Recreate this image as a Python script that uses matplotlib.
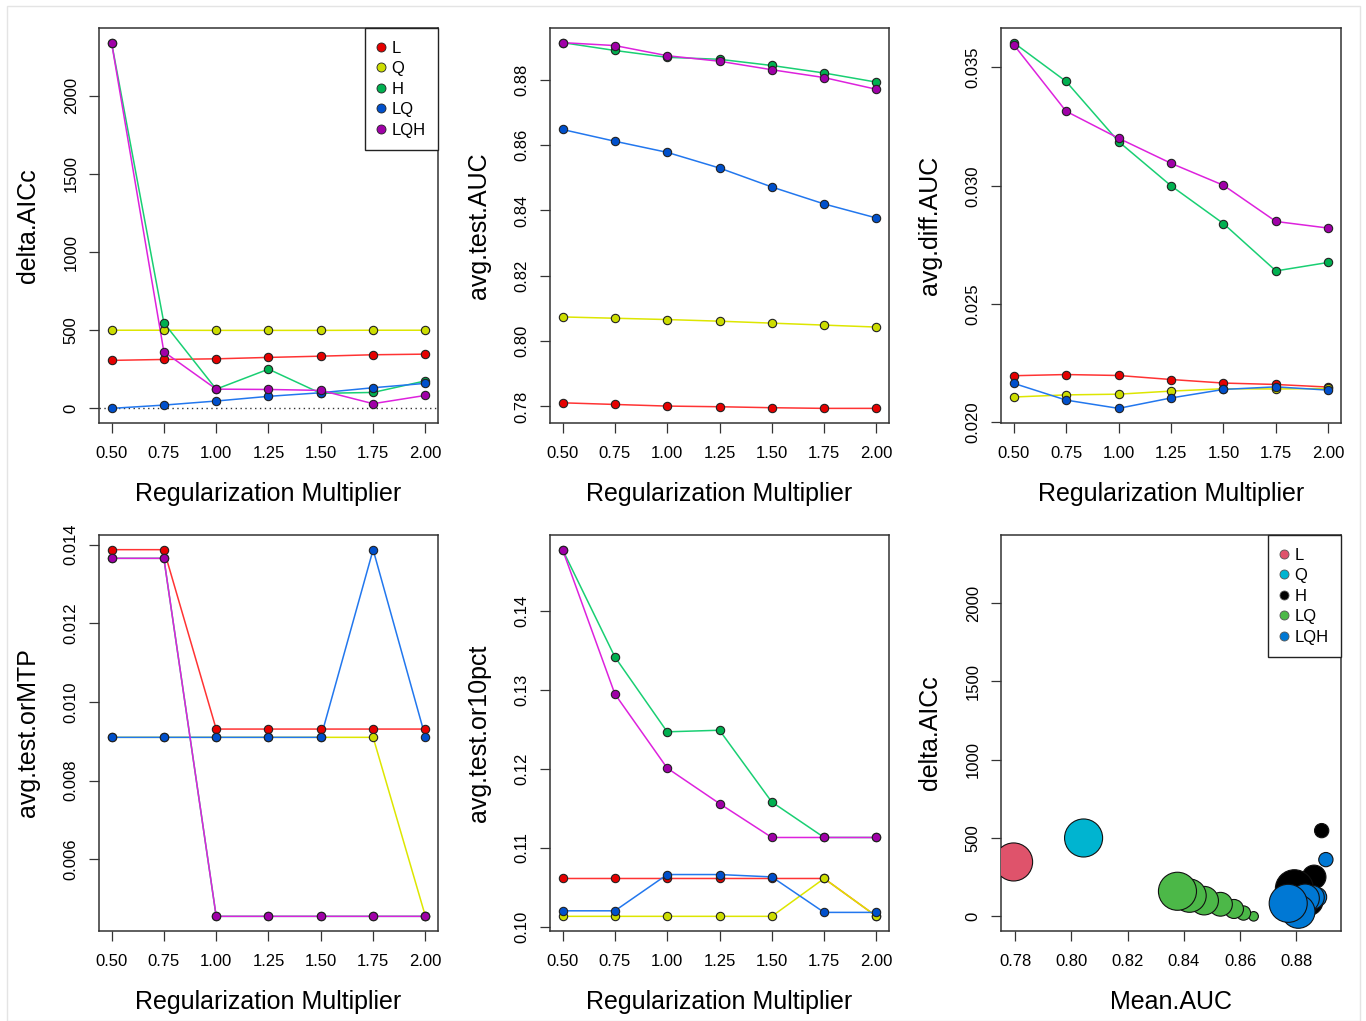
import matplotlib.pyplot as plt
from matplotlib.lines import Line2D
from matplotlib.patches import Rectangle

plt.rcParams['font.family'] = ['Liberation Sans', 'DejaVu Sans']

# regularization multipliers and feature classes
rm = [0.5, 0.75, 1.0, 1.25, 1.5, 1.75, 2.0]
rm_labels = ['0.50', '0.75', '1.00', '1.25', '1.50', '1.75', '2.00']
features = ['L', 'Q', 'H', 'LQ', 'LQH']

delta_aicc = {
    'L':   [307, 313, 317, 326, 334, 343, 347],
    'Q':   [500, 500, 499, 499, 499, 500, 500],
    'H':   [2340, 547, 123, 251, 96, 102, 176],
    'LQ':  [0, 21, 47, 77, 100, 132, 160],
    'LQH': [2340, 362, 123, 121, 115, 30, 83],
}
avg_test_auc = {
    'L':   [0.7811, 0.7806, 0.7801, 0.7799, 0.7796, 0.7794, 0.7794],
    'Q':   [0.8074, 0.8070, 0.8066, 0.8061, 0.8055, 0.8049, 0.8043],
    'H':   [0.8914, 0.8890, 0.8869, 0.8863, 0.8844, 0.8821, 0.8793],
    'LQ':  [0.8648, 0.8612, 0.8578, 0.8530, 0.8472, 0.8420, 0.8377],
    'LQH': [0.8914, 0.8905, 0.8874, 0.8857, 0.8831, 0.8807, 0.8771],
}
avg_diff_auc = {
    'L':   [0.02197, 0.02202, 0.02198, 0.02181, 0.02166, 0.02160, 0.02149],
    'Q':   [0.02107, 0.02116, 0.02119, 0.02132, 0.02142, 0.02141, 0.02143],
    'H':   [0.03605, 0.03441, 0.03187, 0.03000, 0.02840, 0.02640, 0.02676],
    'LQ':  [0.02165, 0.02094, 0.02059, 0.02103, 0.02139, 0.02150, 0.02136],
    'LQH': [0.03597, 0.03315, 0.03201, 0.03095, 0.03002, 0.02849, 0.02821],
}
avg_test_ormtp = {
    'L':   [0.01387, 0.01387, 0.00931, 0.00931, 0.00931, 0.00931, 0.00931],
    'Q':   [0.00910, 0.00910, 0.00910, 0.00910, 0.00910, 0.00910, 0.00455],
    'H':   [0.01365, 0.01365, 0.00455, 0.00455, 0.00455, 0.00455, 0.00455],
    'LQ':  [0.00910, 0.00910, 0.00910, 0.00910, 0.00910, 0.01387, 0.00910],
    'LQH': [0.01365, 0.01365, 0.00455, 0.00455, 0.00455, 0.00455, 0.00455],
}
avg_test_or10 = {
    'L':   [0.1061, 0.1061, 0.1061, 0.1061, 0.1061, 0.1061, 0.1013],
    'Q':   [0.1013, 0.1013, 0.1013, 0.1013, 0.1013, 0.1061, 0.1013],
    'H':   [0.1478, 0.1342, 0.1247, 0.1249, 0.1158, 0.1113, 0.1113],
    'LQ':  [0.1020, 0.1020, 0.1066, 0.1066, 0.1063, 0.1018, 0.1018],
    'LQH': [0.1478, 0.1295, 0.1201, 0.1156, 0.1113, 0.1113, 0.1113],
}

yticks_aicc = [0, 500, 1000, 1500, 2000]
yticks_auc = [0.78, 0.80, 0.82, 0.84, 0.86, 0.88]
yticks_diff = [0.020, 0.025, 0.030, 0.035]
yticks_mtp = [0.006, 0.008, 0.010, 0.012, 0.014]
yticks_or10 = [0.10, 0.11, 0.12, 0.13, 0.14]
xticks_auc = [0.78, 0.80, 0.82, 0.84, 0.86, 0.88]

line_cols = {'L': '#ff3333', 'Q': '#dde600', 'H': '#19cf73', 'LQ': '#2277ee', 'LQH': '#dd22dd'}
pt_cols = {'L': '#e60000', 'Q': '#ccdd00', 'H': '#00b050', 'LQ': '#0050cc', 'LQH': '#a000a8'}
bub_cols = {'L': '#df536b', 'Q': '#00b4d0', 'H': '#000000', 'LQ': '#4cb848', 'LQH': '#0078d4'}

W, H = 1366, 1021
fig = plt.figure(figsize=(W / 100, H / 100), dpi=100)
fig.patches.append(Rectangle((7 / W, 0), 1353 / W, 1 - 6 / H, transform=fig.transFigure,
                             fill=False, edgecolor='#e4e4e4', linewidth=1))

cols = [(99, 438), (550, 889), (1001, 1341)]
rows = [(28, 423), (535, 931)]


def make_ax(r, c):
    x0, x1 = cols[c]
    y0, y1 = rows[r]
    ax = fig.add_axes([x0 / W, 1 - y1 / H, (x1 - x0) / W, (y1 - y0) / H])
    for s in ax.spines.values():
        s.set_color('#333333')
        s.set_linewidth(1.1)
    ax.tick_params(direction='out', length=7.5, width=0.9, color='#333333', labelsize=12)
    ax.tick_params(axis='x', pad=9)
    ax.tick_params(axis='y', pad=7, labelrotation=90)
    return ax


def r_lim(vals):
    lo, hi = min(vals), max(vals)
    d = (hi - lo) * 0.04
    return lo - d, hi + d


def set_labels(ax, xlab, ylab):
    ax.set_xlabel(xlab, fontsize=18)
    ax.xaxis.set_label_coords(0.5, -0.18)
    ax.xaxis.label.set_va('center')
    ax.set_ylabel(ylab, fontsize=18)
    ax.yaxis.set_label_coords(-0.21, 0.5)
    ax.yaxis.label.set_va('center')


def add_legend(ax, cdict, edge):
    handles = [Line2D([], [], linestyle='none', marker='o', markersize=6.5,
                      markerfacecolor=cdict[f], markeredgecolor=edge, markeredgewidth=0.6)
               for f in features]
    leg = ax.legend(handles, features, loc='upper right', borderaxespad=0, fontsize=12,
                    frameon=True, fancybox=False, framealpha=1, edgecolor='#222222',
                    handlelength=0.5, handletextpad=0.35, labelspacing=0.33, borderpad=0.75)
    leg.get_frame().set_linewidth(1.0)
    leg.set_zorder(10)


def metric_panel(r, c, data, yticks, fmt, ylab, legend=False, hline=None):
    ax = make_ax(r, c)
    if hline is not None:
        ax.axhline(hline, color='#333333', linestyle=(0, (1, 2.5)), linewidth=1)
    for f in features:
        ax.plot(rm, data[f], color=line_cols[f], linewidth=1.1, zorder=2)
        ax.plot(rm, data[f], linestyle='none', marker='o', markersize=6,
                markerfacecolor=pt_cols[f], markeredgecolor='#222222', markeredgewidth=0.8, zorder=3)
    ax.set_xlim(r_lim(rm))
    allv = [v for f in features for v in data[f]]
    ax.set_ylim(r_lim(allv))
    ax.set_xticks(rm)
    ax.set_xticklabels(rm_labels)
    ax.set_yticks(yticks)
    ax.set_yticklabels([fmt.format(t) for t in yticks], rotation=90, va='center')
    set_labels(ax, 'Regularization Multiplier', ylab)
    if legend:
        add_legend(ax, pt_cols, '#222222')
    return ax


metric_panel(0, 0, delta_aicc, yticks_aicc, '{:.0f}', 'delta.AICc', legend=True, hline=2)
metric_panel(0, 1, avg_test_auc, yticks_auc, '{:.2f}', 'avg.test.AUC')
metric_panel(0, 2, avg_diff_auc, yticks_diff, '{:.3f}', 'avg.diff.AUC')
metric_panel(1, 0, avg_test_ormtp, yticks_mtp, '{:.3f}', 'avg.test.orMTP')
metric_panel(1, 1, avg_test_or10, yticks_or10, '{:.2f}', 'avg.test.or10pct')

# bubble plot: Mean AUC vs delta AICc, size by regularization multiplier
ax = make_ax(1, 2)
xs, ys, ss, cs = [], [], [], []
for f in features:
    for i, m in enumerate(rm):
        xs.append(avg_test_auc[f][i])
        ys.append(delta_aicc[f][i])
        ss.append((13.7 * m) ** 2)
        cs.append(bub_cols[f])
ax.scatter(xs, ys, s=ss, c=cs, edgecolors='#111111', linewidths=0.8, zorder=3)
ax.set_xlim(r_lim(xs))
ax.set_ylim(r_lim(ys))
ax.set_xticks(xticks_auc)
ax.set_xticklabels(['{:.2f}'.format(t) for t in xticks_auc])
ax.set_yticks(yticks_aicc)
ax.set_yticklabels(['{:.0f}'.format(t) for t in yticks_aicc], rotation=90, va='center')
set_labels(ax, 'Mean.AUC', 'delta.AICc')
add_legend(ax, bub_cols, '#555555')

fig.savefig('out.png', dpi=100, facecolor='white')
